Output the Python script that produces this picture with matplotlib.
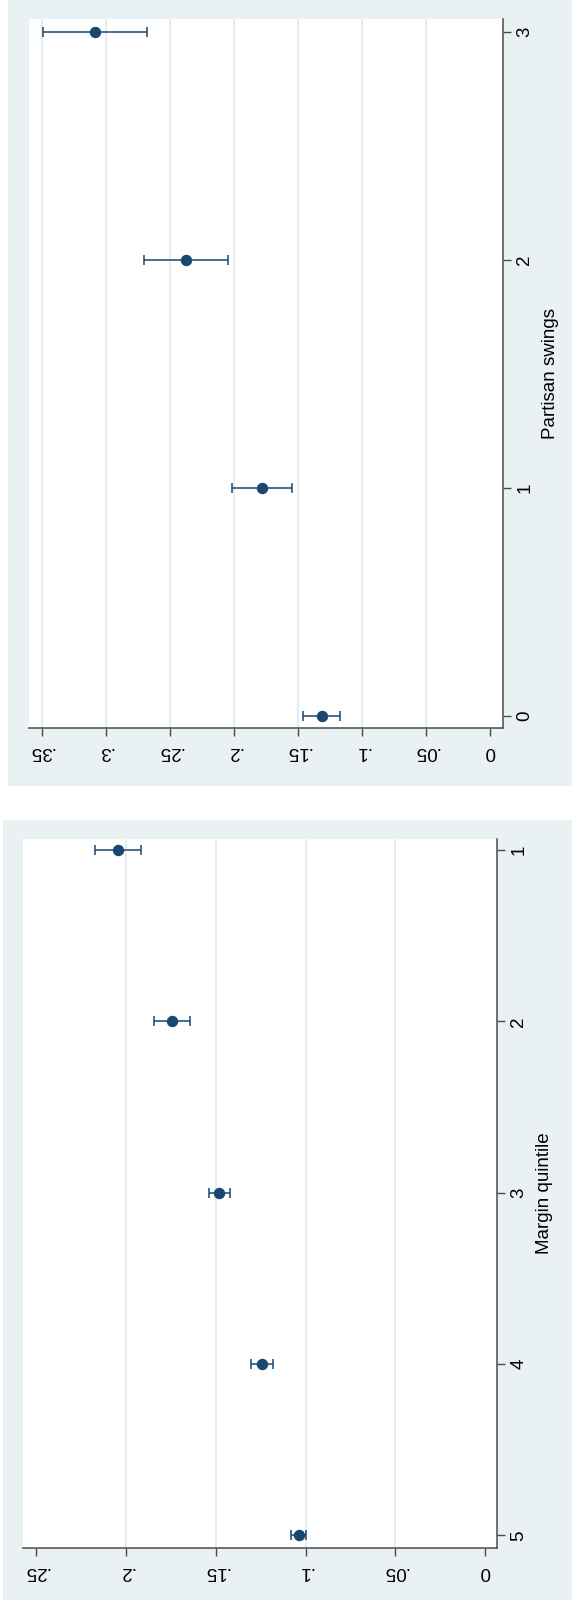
import matplotlib
matplotlib.use("Agg")
import matplotlib.pyplot as plt
from matplotlib.patches import Rectangle

plt.rcParams['font.family'] = ['Liberation Sans', 'DejaVu Sans']

# Margen: quintiles 1-5
margin_cats = [1, 2, 3, 4, 5]
margin_est = [0.2046, 0.1744, 0.1480, 0.1242, 0.1039]
margin_lo = [0.1918, 0.1642, 0.1420, 0.1181, 0.0999]
margin_hi = [0.2172, 0.1844, 0.1540, 0.1303, 0.1082]
margin_ticks = [0, 0.05, 0.1, 0.15, 0.2, 0.25]
margin_ticklabels = ['0', '.05', '.1', '.15', '.2', '.25']
margin_grid = [0.05, 0.1, 0.15, 0.2]

# Partisan swings 0-3
swing_cats = [0, 1, 2, 3]
swing_est = [0.1315, 0.1783, 0.2374, 0.3086]
swing_lo = [0.1172, 0.1549, 0.2044, 0.2680]
swing_hi = [0.1459, 0.2017, 0.2704, 0.3490]
swing_ticks = [0, 0.05, 0.1, 0.15, 0.2, 0.25, 0.3, 0.35]
swing_ticklabels = ['0', '.05', '.1', '.15', '.2', '.25', '.3', '.35']
swing_grid = [0.05, 0.1, 0.15, 0.2, 0.25, 0.3, 0.35]

W, H = 572, 1602
BG = '#EAF1F3'
GRID = '#E3EBEE'
NAVY = '#1A476F'
AXC = '#4a4a4a'
FS = 13.5

fig = plt.figure(figsize=(W / 100, H / 100), dpi=100)
fig.patch.set_facecolor('white')


def fbox(x0, y0, x1, y1):
    # pixel box (origen arriba-izquierda) -> fracción de figura
    return [x0 / W, 1 - y1 / H, (x1 - x0) / W, (y1 - y0) / H]


# fondos de los dos gráficos
for x0, y0, x1, y1 in [(8, 0, 572, 786), (3, 820, 572, 1600)]:
    fig.patches.append(Rectangle((x0 / W, 1 - y1 / H), (x1 - x0) / W, (y1 - y0) / H,
                                 transform=fig.transFigure, facecolor=BG,
                                 edgecolor='none', zorder=-10))


def panel(box, cats, est, lo, hi, ticks, ticklabels, grid, xlim, ylim, title):
    ax = fig.add_axes(fbox(*box))
    ax.set_facecolor('white')
    for v in grid:
        ax.axvline(v, color=GRID, lw=1.3, zorder=1)
    err = [[e - l for e, l in zip(est, lo)], [h - e for e, h in zip(est, hi)]]
    ax.errorbar(est, cats, xerr=err, fmt='o', color=NAVY, ms=7.2, lw=1.1,
                capsize=3.6, capthick=1.1, zorder=3)
    ax.set_xlim(*xlim)
    ax.set_ylim(*ylim)
    for s in ['top', 'left']:
        ax.spines[s].set_visible(False)
    for s in ['bottom', 'right']:
        ax.spines[s].set_color(AXC)
        ax.spines[s].set_linewidth(1.1)
    ax.set_xticks(ticks)
    ax.set_xticklabels(ticklabels, rotation=180, fontsize=FS)
    ax.set_yticks(cats)
    ax.set_yticklabels([str(c) for c in cats], rotation=90, fontsize=FS, va='center')
    ax.yaxis.tick_right()
    ax.yaxis.set_label_position('right')
    ax.tick_params(axis='both', length=6, width=1, color=AXC, labelcolor='black')
    ax.tick_params(axis='x', pad=5)
    ax.tick_params(axis='y', pad=3.5)
    ax.set_ylabel(title, rotation=90, fontsize=FS, labelpad=6)
    return ax


panel((29, 19, 503.3, 728), swing_cats, swing_est, swing_lo, swing_hi,
      swing_ticks, swing_ticklabels, swing_grid, (0.3598, -0.0101), (-0.054, 3.056),
      'Partisan swings')
panel((23, 839, 497.2, 1548), margin_cats, margin_est, margin_lo, margin_hi,
      margin_ticks, margin_ticklabels, margin_grid, (0.2573, -0.0067), (5.074, 0.935),
      'Margin quintile')

fig.savefig('out.png', dpi=100)
